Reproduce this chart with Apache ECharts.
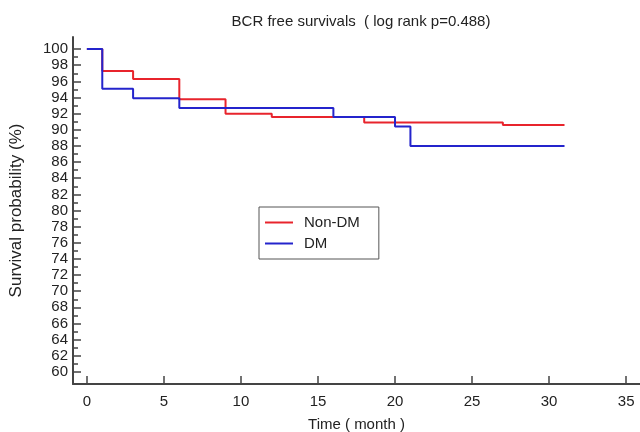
<!DOCTYPE html>
<html>
<head>
<meta charset="utf-8">
<script src="https://cdn.jsdelivr.net/npm/echarts@6/dist/echarts.min.js"></script>
<style>html,body{margin:0;padding:0;background:#fff;}#c{width:640px;height:432px;}</style>
</head>
<body>
<div id="c"></div>
<script>
var nonDmTimes = [0, 1, 3, 6, 9, 12, 18, 27, 31];
var nonDmValues = [100, 97.3, 96.3, 93.8, 92.0, 91.6, 90.9, 90.6, 90.6];
var dmTimes = [0, 1, 3, 6, 16, 20, 21, 31];
var dmValues = [100, 95.1, 93.9, 92.7, 91.6, 90.4, 88.0, 88.0];
var xTicks = [0, 5, 10, 15, 20, 25, 30, 35];
var yTicks = [60, 62, 64, 66, 68, 70, 72, 74, 76, 78, 80, 82, 84, 86, 88, 90, 92, 94, 96, 98, 100];
var yMinorTicks = [61, 63, 65, 67, 69, 71, 73, 75, 77, 79, 81, 83, 85, 87, 89, 91, 93, 95, 97, 99];

function pairs(t, v) { return t.map(function (x, i) { return [x, v[i]]; }); }

var font = 'Liberation Sans, Arial, sans-serif';
var chart = echarts.init(document.getElementById('c'), null, {renderer: 'canvas'});
chart.setOption({
  backgroundColor: '#fff',
  animation: false,
  title: {
    text: 'BCR free survivals  ( log rank p=0.488)',
    left: 356, top: 9, textAlign: 'center',
    textStyle: {fontFamily: font, fontSize: 15, fontWeight: 'normal', color: '#222'}
  },
  legend: {
    orient: 'vertical', left: 259, top: 207,
    padding: [7, 19, 7, 6], itemGap: 4,
    itemWidth: 28, itemHeight: 2, icon: 'rect',
    borderColor: '#555', borderWidth: 1,
    textStyle: {fontFamily: font, fontSize: 15, color: '#222', lineHeight: 17, padding: [0, 0, 0, 6]},
    data: ['Non-DM', 'DM']
  },
  grid: {left: 73, right: 0, top: 37, bottom: 48, containLabel: false, outerBoundsMode: 'none'},
  xAxis: {
    type: 'value', min: -0.9, max: 35.9,
    name: 'Time ( month )', nameLocation: 'middle', nameGap: 33,
    nameTextStyle: {fontFamily: font, fontSize: 15, color: '#222'},
    axisLine: {onZero: false, lineStyle: {color: '#444', width: 2}},
    axisTick: {inside: true, length: 8, customValues: xTicks, lineStyle: {color: '#444', width: 1.5}},
    axisLabel: {customValues: xTicks, margin: 10, fontFamily: font, fontSize: 15, color: '#222'},
    splitLine: {show: false}
  },
  yAxis: [{
    type: 'value', min: 58.5, max: 101.5,
    name: 'Survival probability (%)', nameLocation: 'middle', nameGap: 48,
    nameTextStyle: {fontFamily: font, fontSize: 17, color: '#222'},
    axisLine: {onZero: false, lineStyle: {color: '#444', width: 2}},
    axisTick: {inside: true, length: 8, customValues: yTicks, lineStyle: {color: '#444', width: 1.5}},
    axisLabel: {customValues: yTicks, margin: 5, fontFamily: font, fontSize: 15, color: '#222'},
    splitLine: {show: false}
  }, {
    type: 'value', min: 58.5, max: 101.5, position: 'left',
    axisLine: {show: false, onZero: false},
    axisTick: {inside: true, length: 5, customValues: yMinorTicks, lineStyle: {color: '#444', width: 1.5}},
    axisLabel: {show: false},
    splitLine: {show: false}
  }],
  series: [{
    name: 'Non-DM', type: 'line', step: 'end', showSymbol: false,
    color: '#e8242c', lineStyle: {width: 2, color: '#e8242c'},
    data: pairs(nonDmTimes, nonDmValues)
  }, {
    name: 'DM', type: 'line', step: 'end', showSymbol: false,
    color: '#2424cc', lineStyle: {width: 2, color: '#2424cc'},
    data: pairs(dmTimes, dmValues)
  }]
});
</script>
</body>
</html>
